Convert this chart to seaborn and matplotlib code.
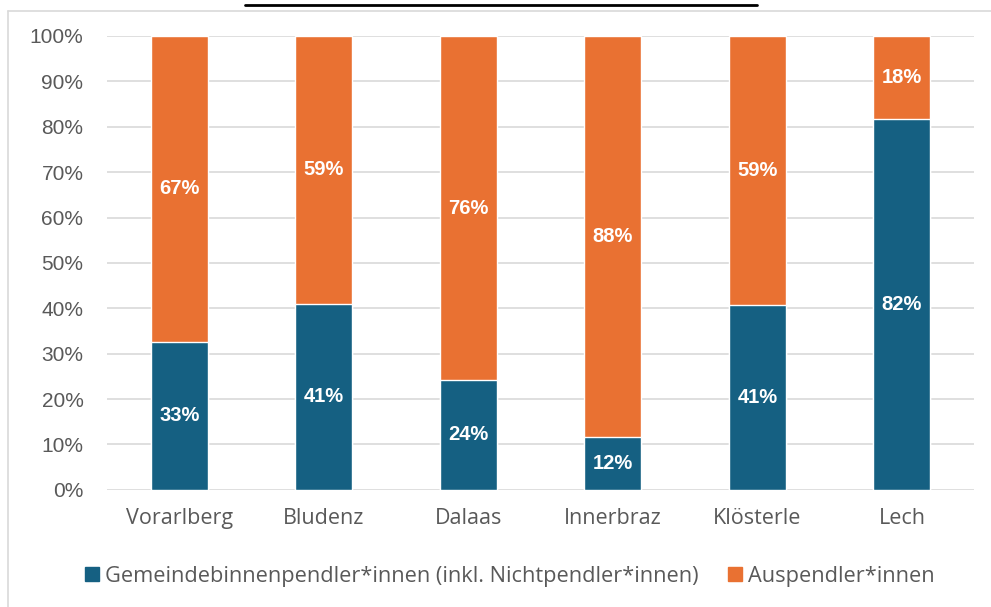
import matplotlib
matplotlib.use("Agg")
import matplotlib.pyplot as plt
import seaborn as sns
import pandas as pd
from matplotlib.patches import Rectangle
from matplotlib.lines import Line2D

categories = ["Vorarlberg", "Bludenz", "Dalaas", "Innerbraz", "Klösterle", "Lech"]
binnen = [32.6, 41.0, 24.2, 11.6, 40.7, 81.8]
aus = [67.4, 59.0, 75.8, 88.4, 59.3, 18.2]
binnen_labels = ["33%", "41%", "24%", "12%", "41%", "82%"]
aus_labels = ["67%", "59%", "76%", "88%", "59%", "18%"]
yticks = [0, 10, 20, 30, 40, 50, 60, 70, 80, 90, 100]
series_names = ["Gemeindebinnenpendler*innen (inkl. Nichtpendler*innen)", "Auspendler*innen"]

BLUE = "#156082"
ORANGE = "#E97132"
GRAY = "#595959"

sns.set_theme(style="white")
plt.rcParams["font.family"] = ["Open Sans", "DejaVu Sans"]

df = pd.DataFrame({"cat": categories, "binnen": binnen, "aus": aus})
df["total"] = df["binnen"] + df["aus"]

fig = plt.figure(figsize=(9.91, 6.07), dpi=100)
ax = fig.add_axes([0.108, 0.193, 0.875, 0.7477])

sns.barplot(data=df, x="cat", y="total", color=ORANGE, width=0.395, ax=ax,
            saturation=1, zorder=3)
sns.barplot(data=df, x="cat", y="binnen", color=BLUE, width=0.395, ax=ax,
            saturation=1, zorder=3)

ax.set_ylim(0, 100)
ax.set_xlim(-0.5, len(categories) - 0.5)
ax.set_yticks(yticks)
ax.set_yticklabels([f"{v}%" for v in yticks],
                   fontfamily=["Liberation Sans", "DejaVu Sans"], fontsize=15)
ax.set_xticks(range(len(categories)))
ax.set_xticklabels(categories, fontfamily=["Open Sans", "DejaVu Sans"], fontsize=15.5)
ax.yaxis.grid(True, color="#D9D9D9", linewidth=1.2, zorder=0)
ax.set_axisbelow(True)
for s in ax.spines.values():
    s.set_visible(False)
ax.set_xlabel("")
ax.set_ylabel("")
ax.tick_params(axis="both", length=0, colors=GRAY)
ax.tick_params(axis="y", pad=17)
ax.tick_params(axis="x", pad=13)

for i in range(len(categories)):
    ax.text(i, binnen[i] / 2, binnen_labels[i], ha="center", va="center",
            color="white", fontweight="bold", fontsize=14.5,
            fontfamily=["Liberation Sans", "DejaVu Sans"], zorder=5)
    ax.text(i, binnen[i] + aus[i] / 2, aus_labels[i], ha="center", va="center",
            color="white", fontweight="bold", fontsize=14.5,
            fontfamily=["Liberation Sans", "DejaVu Sans"], zorder=5)

handles = [Rectangle((0, 0), 1, 1, color=BLUE), Rectangle((0, 0), 1, 1, color=ORANGE)]
fig.legend(handles, series_names, loc="center", bbox_to_anchor=(0.5146, 0.051),
           ncol=2, frameon=False, handlelength=0.64, handleheight=0.64,
           handletextpad=0.28, columnspacing=1.35, borderpad=0,
           labelcolor=GRAY,
           prop={"family": ["Open Sans", "DejaVu Sans"], "size": 15.7})

# outer frame of the chart box
fig.add_artist(Line2D([8 / 991, 8 / 991], [0, 1 - 11 / 607], transform=fig.transFigure,
                      color="#D9D9D9", linewidth=1.2))
fig.add_artist(Line2D([8 / 991, 1], [1 - 11 / 607, 1 - 11 / 607], transform=fig.transFigure,
                      color="#D9D9D9", linewidth=1.2))
# underline from the cropped caption above
fig.add_artist(Line2D([245 / 991, 757 / 991], [1 - 5 / 607, 1 - 5 / 607], transform=fig.transFigure,
                      color="black", linewidth=2))

fig.savefig("out.png", dpi=100)
